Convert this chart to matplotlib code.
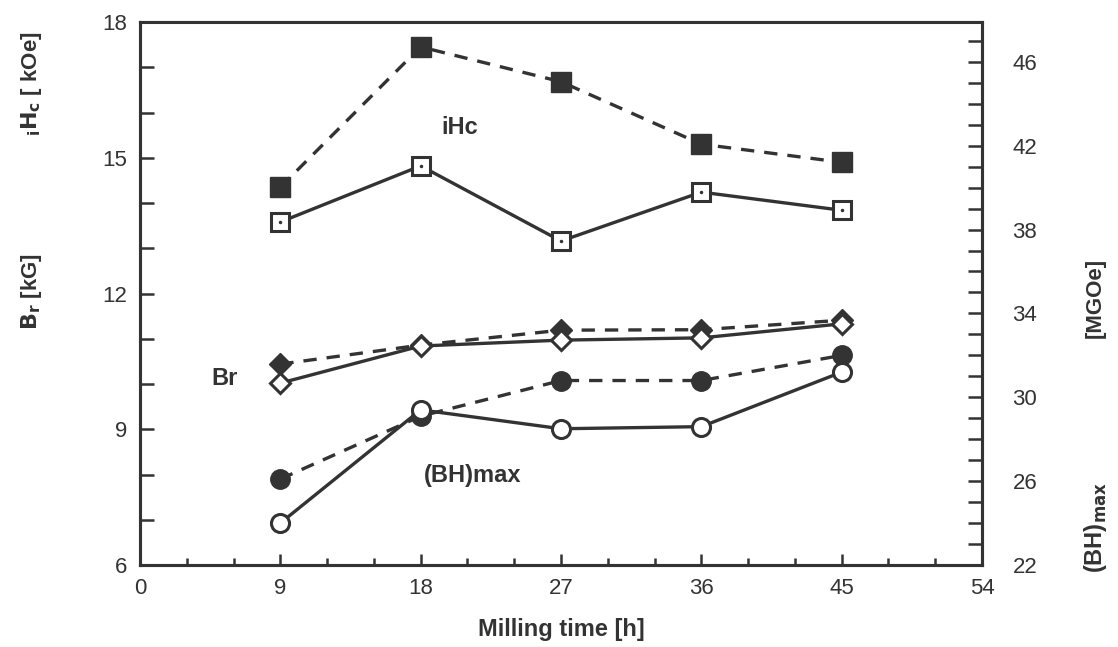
import matplotlib.pyplot as plt
from matplotlib.ticker import MultipleLocator, FixedLocator

# milling time [h]
hours = [9, 18, 27, 36, 45]

# iHc [kOe]
ihc_filled = [14.35, 17.45, 16.68, 15.30, 14.90]
ihc_open = [13.58, 14.82, 13.16, 14.24, 13.84]

# Br [kG]
br_filled = [10.44, 10.86, 11.19, 11.20, 11.41]
br_open = [10.02, 10.84, 10.97, 11.02, 11.33]

# (BH)max [MGOe], right axis
bh_filled = [26.1, 29.1, 30.8, 30.8, 32.0]
bh_open = [24.0, 29.4, 28.5, 28.6, 31.2]

right_ticks = [22, 26, 30, 34, 38, 42, 46]

INK = "#333333"
FONT = "Liberation Sans"

plt.rcParams["font.family"] = FONT

fig = plt.figure(figsize=(11.18, 6.47), dpi=100)
ax = fig.add_axes([0.1252, 0.1267, 0.7532, 0.8393])
ax2 = ax.twinx()

lw = 2.4
dash = (0, (4, 3))

ax.plot(hours, ihc_filled, color=INK, lw=lw, linestyle=dash, marker="s",
        ms=14, mfc=INK, mec=INK, zorder=3)
ax.plot(hours, ihc_open, color=INK, lw=lw, marker="s", ms=13, mfc="white",
        mec=INK, mew=2.2, zorder=3)
ax.plot(hours, ihc_open, linestyle="none", marker=".", ms=3, color=INK, zorder=4)

ax.plot(hours, br_filled, color=INK, lw=lw, linestyle=dash, marker="D",
        ms=11, mfc=INK, mec=INK, zorder=3)
ax.plot(hours, br_open, color=INK, lw=lw, marker="D", ms=10, mfc="white",
        mec=INK, mew=2.2, zorder=3)

ax2.plot(hours, bh_filled, color=INK, lw=lw, linestyle=dash, marker="o",
         ms=14, mfc=INK, mec=INK, zorder=3)
ax2.plot(hours, bh_open, color=INK, lw=lw, marker="o", ms=13, mfc="white",
         mec=INK, mew=2.2, zorder=3)

ax.set_xlim(0, 54)
ax.set_ylim(6, 18)
ax2.set_ylim(22, 47.9)

ax.xaxis.set_major_locator(MultipleLocator(9))
ax.xaxis.set_minor_locator(MultipleLocator(3))
ax.yaxis.set_major_locator(MultipleLocator(3))
ax.yaxis.set_minor_locator(MultipleLocator(1))
ax2.yaxis.set_major_locator(FixedLocator(right_ticks))
ax2.yaxis.set_minor_locator(MultipleLocator(1))

for a in (ax, ax2):
    for s in a.spines.values():
        s.set_linewidth(2.2)
        s.set_color(INK)
ax.spines["top"].set_linewidth(1.5)

ax.tick_params(axis="x", which="both", direction="in", top=False, colors=INK,
               labelsize=16, pad=9, width=1.8)
ax.tick_params(axis="x", which="major", length=8)
ax.tick_params(axis="x", which="minor", length=5)
ax.tick_params(axis="y", which="both", direction="in", right=False, colors=INK,
               labelsize=16, width=1.8, pad=9)
ax.tick_params(axis="y", which="major", length=10)
ax.tick_params(axis="y", which="minor", length=10)
ax2.tick_params(axis="y", which="both", direction="in", colors=INK,
                labelsize=16, width=1.8, length=10, pad=22)

ax.set_xlabel("Milling time [h]", fontsize=17, fontweight="bold", color=INK,
              labelpad=14)

# axis titles drawn as text to mimic the stacked labels
fig.text(0.028, 0.87, r"$\mathbf{_{i}H_{c}}$ [ kOe]", rotation=90, fontsize=16,
         fontweight="bold", color=INK, ha="center", va="center")
fig.text(0.028, 0.55, r"$\mathbf{B_{r}}$ [kG]", rotation=90, fontsize=16,
         fontweight="bold", color=INK, ha="center", va="center")
fig.text(0.98, 0.54, "[MGOe]", rotation=90, fontsize=16,
         fontweight="bold", color=INK, ha="center", va="center")
fig.text(0.98, 0.185, r"(BH)$_{\mathbf{max}}$", rotation=90, fontsize=17,
         fontweight="bold", color=INK, ha="center", va="center")

ax.text(20.5, 15.66, "iHc", fontsize=17, fontweight="bold", color=INK,
        ha="center", va="center")
ax.text(5.45, 10.13, "Br", fontsize=17, fontweight="bold", color=INK,
        ha="center", va="center")
ax.text(21.3, 7.98, "(BH)max", fontsize=17, fontweight="bold", color=INK,
        ha="center", va="center")

fig.savefig("out.png", dpi=100, facecolor="white")
